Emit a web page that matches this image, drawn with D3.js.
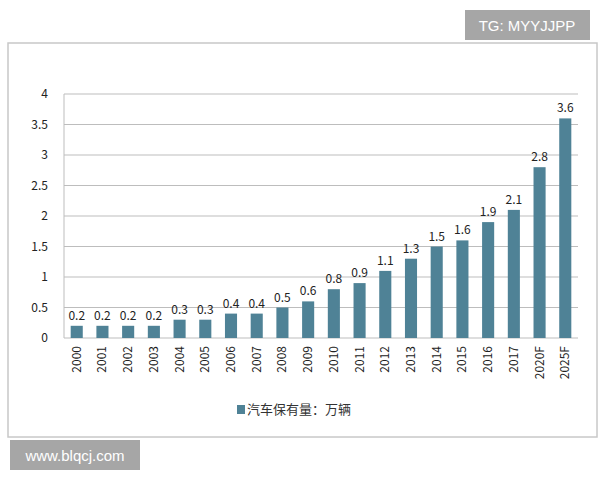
<!DOCTYPE html>
<html><head><meta charset="utf-8">
<script src="https://d3js.org/d3.v7.min.js"></script>
<style>body{margin:0;background:#fff}</style></head>
<body><svg id="c" width="600" height="480"></svg>
<script>
const categories=["2000","2001","2002","2003","2004","2005","2006","2007","2008","2009","2010","2011","2012","2013","2014","2015","2016","2017","2020F","2025F"];
const values=[0.2,0.2,0.2,0.2,0.3,0.3,0.4,0.4,0.5,0.6,0.8,0.9,1.1,1.3,1.5,1.6,1.9,2.1,2.8,3.6];
const yTicks=[0,0.5,1,1.5,2,2.5,3,3.5,4];
const svg=d3.select("#c");
const font="'Noto Sans CJK SC', Arial, sans-serif";
svg.append("rect").attr("x",8).attr("y",43).attr("width",589).attr("height",394).attr("fill","#fff").attr("stroke","#c8c8c8").attr("stroke-width",1.5);
const x=d3.scaleBand().domain(categories).range([64,578]).paddingInner(0.53).paddingOuter(0.26);
const y=d3.scaleLinear().domain([0,4]).range([338,94]);
const g=svg.append("g");
g.selectAll(".grid").data(yTicks).join("line").attr("x1",64).attr("x2",578).attr("y1",d=>y(d)).attr("y2",d=>y(d)).attr("stroke","#bdbdbd").attr("stroke-width",1);
g.append("line").attr("x1",64).attr("x2",64).attr("y1",94).attr("y2",338).attr("stroke","#bdbdbd");
g.selectAll(".yl").data(yTicks).join("text").attr("x",48).attr("y",d=>y(d)+4).attr("text-anchor","end").attr("font-size",12).attr("font-family",font).attr("fill","#222").text(d=>d);
g.selectAll(".bar").data(values).join("rect").attr("x",(d,i)=>x(categories[i])).attr("width",x.bandwidth()).attr("y",d=>y(d)).attr("height",d=>338-y(d)).attr("fill","#4f8296");
g.selectAll(".vl").data(values).join("text").attr("x",(d,i)=>x(categories[i])+x.bandwidth()/2).attr("y",d=>y(d)-6).attr("text-anchor","middle").attr("font-size",12).attr("font-family",font).attr("fill","#222").text(d=>d);
g.selectAll(".xl").data(categories).join("text").attr("transform",d=>`translate(${x(d)+x.bandwidth()/2+4},346) rotate(-90)`).attr("text-anchor","end").attr("font-size",12).attr("font-family",font).attr("fill","#222").text(d=>d);
svg.append("rect").attr("x",237).attr("y",405).attr("width",8).attr("height",9).attr("fill","#4f8296");
svg.append("text").attr("x",247).attr("y",414).attr("font-size",13).attr("font-family",font).attr("fill","#333").text("汽车保有量：万辆");
svg.append("rect").attr("x",465).attr("y",10).attr("width",125).attr("height",30).attr("fill","#a6a6a6");
svg.append("text").attr("x",527).attr("y",31).attr("text-anchor","middle").attr("font-size",15).attr("font-family","Arial, sans-serif").attr("fill","#fff").text("TG: MYYJJPP");
svg.append("rect").attr("x",10).attr("y",440).attr("width",130).attr("height",30).attr("fill","#a6a6a6");
svg.append("text").attr("x",75).attr("y",461).attr("text-anchor","middle").attr("font-size",15).attr("font-family","Arial, sans-serif").attr("fill","#fff").text("www.blqcj.com");
</script></body></html>
